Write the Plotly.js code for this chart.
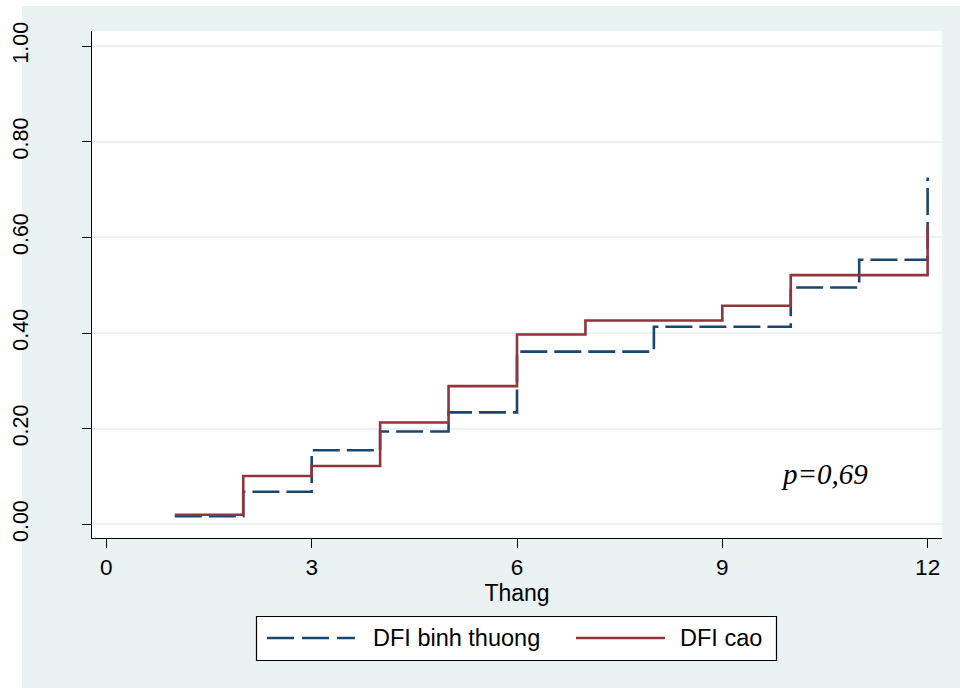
<!DOCTYPE html>
<html>
<head>
<meta charset="utf-8">
<script src="https://cdn.plot.ly/plotly-3.0.1.min.js"></script>
<style>
  html, body { margin: 0; padding: 0; background: #ffffff; }
  #chart { width: 960px; height: 688px; }
</style>
</head>
<body>
<div id="chart"></div>
<script>
// Cumulative incidence by month for the two DFI groups
const months = [1, 2, 3, 4, 5, 6, 7, 8, 9, 10, 11, 12];
const dfiNormal = [0.017, 0.068, 0.155, 0.194, 0.234, 0.361, 0.361, 0.413, 0.413, 0.495, 0.553, 0.725];
const dfiHigh   = [0.020, 0.101, 0.122, 0.213, 0.289, 0.397, 0.426, 0.426, 0.457, 0.521, 0.521, 0.624];
const seriesNames = ['DFI binh thuong', 'DFI cao'];

const xTicks = [0, 3, 6, 9, 12];
const yTicks = [0, 0.2, 0.4, 0.6, 0.8, 1.0];
const yTickText = ['0.00', '0.20', '0.40', '0.60', '0.80', '1.00'];
const xTitle = 'Thang';
const pLabel = 'p=0,69';

// Page and plot-box geometry (pixels)
const W = 960, H = 688;
const L = 92, R = 942, T = 31, B = 538;
const px = v => (v - L) / (R - L);
const py = v => (B - v) / (B - T);

const NAVY = '#1a476f';
const MAROON = '#90353b';
const BG = '#eaf2f3';
const FONT = 'Liberation Sans, Arial, sans-serif';

const traces = [
  {
    x: months, y: dfiNormal, name: seriesNames[0],
    type: 'scatter', mode: 'lines', line: { shape: 'hv', color: NAVY, width: 2.6, dash: '27px,7px' }
  },
  {
    x: months, y: dfiHigh, name: seriesNames[1],
    type: 'scatter', mode: 'lines', line: { shape: 'hv', color: MAROON, width: 2.6 }
  }
];

// Legend box drawn by hand so the sample lines can be long
const legY = 638;
const shapes = [
  { type: 'rect', xref: 'paper', yref: 'paper', layer: 'below',
    x0: px(22), x1: px(W + 5), y0: py(H + 5), y1: py(6), fillcolor: BG, line: { width: 0 } },
  { type: 'rect', xref: 'paper', yref: 'paper', layer: 'below',
    x0: px(L), x1: px(R), y0: py(B), y1: py(T), fillcolor: '#ffffff', line: { width: 0 } },
  { type: 'rect', xref: 'paper', yref: 'paper',
    x0: px(256.5), x1: px(776.5), y0: py(660.5), y1: py(616.5), fillcolor: '#ffffff', line: { color: '#000000', width: 1.2 } },
  { type: 'line', xref: 'paper', yref: 'paper',
    x0: px(267), x1: px(355), y0: py(legY), y1: py(legY), line: { color: NAVY, width: 2.6, dash: '27px,8px' } },
  { type: 'line', xref: 'paper', yref: 'paper',
    x0: px(576), x1: px(665), y0: py(legY), y1: py(legY), line: { color: MAROON, width: 2.6 } }
];

const annotations = [
  { xref: 'paper', yref: 'paper', x: px(371), y: py(legY), xanchor: 'left', yanchor: 'middle',
    text: seriesNames[0], showarrow: false, font: { family: FONT, size: 23.5, color: '#000' } },
  { xref: 'paper', yref: 'paper', x: px(678), y: py(legY), xanchor: 'left', yanchor: 'middle',
    text: seriesNames[1], showarrow: false, font: { family: FONT, size: 23.5, color: '#000' } },
  { xref: 'x', yref: 'y', x: 10.5, y: 0.105, xanchor: 'center', yanchor: 'middle',
    text: '<i>' + pLabel + '</i>', showarrow: false,
    font: { family: 'Liberation Serif, Times New Roman, serif', size: 29, color: '#000' } }
];

const layout = {
  width: W, height: H,
  margin: { l: L, r: W - R, t: T, b: H - B, pad: 0 },
  paper_bgcolor: '#ffffff',
  plot_bgcolor: '#ffffff',
  showlegend: false,
  font: { family: FONT, color: '#000' },
  xaxis: {
    range: [-0.21, 12.21],
    tickvals: xTicks,
    ticks: 'outside', ticklen: 9, tickwidth: 1, tickcolor: '#000',
    showline: true, linecolor: '#000', linewidth: 1,
    showgrid: false, zeroline: false,
    tickfont: { family: FONT, size: 22.5, color: '#000' },
    title: { text: xTitle, font: { family: FONT, size: 23, color: '#000' }, standoff: 0 },
    automargin: false
  },
  yaxis: {
    range: [-0.0286, 1.0314],
    tickvals: yTicks, ticktext: yTickText,
    tickangle: -90,
    ticks: 'outside', ticklen: 9, tickwidth: 1, tickcolor: '#000',
    showline: true, linecolor: '#000', linewidth: 1,
    showgrid: true, gridcolor: BG, gridwidth: 2,
    zeroline: false,
    tickfont: { family: FONT, size: 21.5, color: '#000' },
    ticklabelstandoff: 45,
    automargin: false
  },
  shapes: shapes,
  annotations: annotations
};

Plotly.newPlot('chart', traces, layout, { staticPlot: true, displayModeBar: false });
</script>
</body>
</html>
